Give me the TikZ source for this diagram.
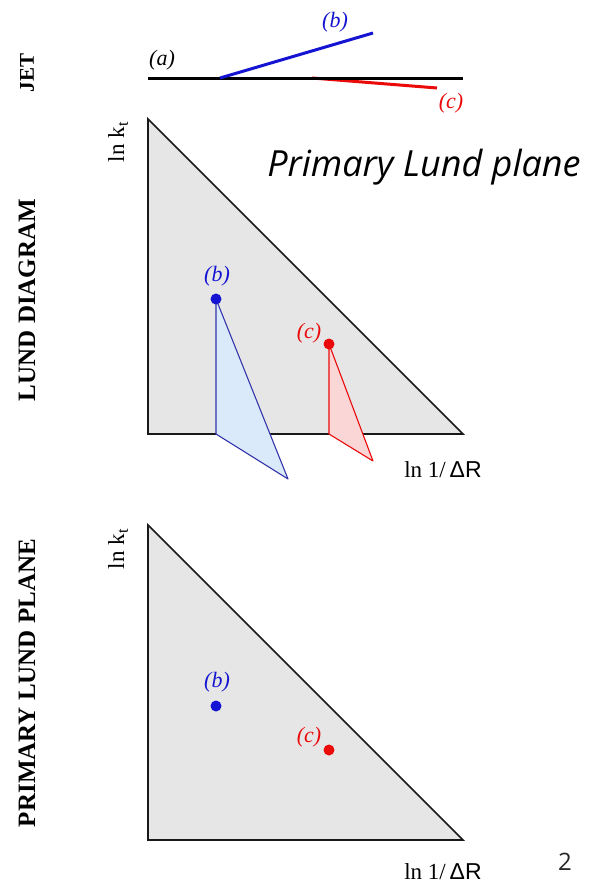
\documentclass[tikz,border=0pt]{standalone}
\usepackage{fontspec}
\setmainfont{Liberation Serif}
\newfontfamily\sansA{Liberation Sans}
\newfontfamily\osans{Open Sans}
\definecolor{jblue}{RGB}{20,20,210}
\definecolor{jred}{RGB}{235,10,10}
\definecolor{planegray}{RGB}{230,230,230}
\definecolor{lblue}{RGB}{218,234,250}
\definecolor{lred}{RGB}{250,214,214}
\definecolor{bstroke}{RGB}{50,50,170}
\definecolor{pagegray}{RGB}{40,40,40}
\tikzset{
  side/.style={rotate=90,font=\bfseries\fontsize{25}{28}\selectfont},
  plane/.style={fill=planegray,draw=black!90,line width=1.7pt,line join=miter},
  jetline/.style={line width=3pt},
  lab/.style={font=\itshape\fontsize{22}{24}\selectfont,inner sep=0pt},
  axis/.style={font=\fontsize{23}{26}\selectfont,inner sep=0pt},
  dot/.style={circle,inner sep=0pt,minimum size=11pt},
}
\begin{document}
\begin{tikzpicture}[x=1pt,y=-1pt]
\fill[white] (0,0) rectangle (591,887);
\useasboundingbox (0,0) rectangle (591,887);

% side titles
\node[side,font=\bfseries\fontsize{21}{24}\selectfont] (tjet) at (27,73) {JET};
\node[side] (tlund) at (27,300) {LUND DIAGRAM};
\node[side] (tprim) at (27,683) {PRIMARY LUND PLANE};

% jet
\coordinate (ja) at (148,78);
\coordinate (jz) at (463,78);
\coordinate (jb0) at (220,78);
\coordinate (jb1) at (373,33);
\coordinate (jc0) at (312,78);
\coordinate (jc1) at (437,88);
\draw[jetline,jred] (jc0) -- (jc1);
\draw[jetline,black] (ja) -- (jz);
\draw[jetline,jblue] (jb0) -- (jb1);
\node[lab] (la) at (162,60) {(a)};
\node[lab,text=jblue] (lb) at (335,22) {(b)};
\node[lab,text=jred] (lc) at (451,103) {(c)};

% Lund diagram
\coordinate (A1) at (148,119);
\coordinate (B1) at (148,434);
\coordinate (C1) at (463,434);
\draw[plane] (A1) -- (B1) -- (C1) -- cycle;
\node[font=\osans\itshape\fontsize{36}{40}\selectfont,inner sep=0pt] (title) at (424,167) {Primary Lund plane};

\coordinate (pb) at (216,299);
\coordinate (pb0) at (216,434);
\coordinate (pb1) at (288,479);
\fill[lblue] (pb) -- (pb0) -- (pb1) -- cycle;
\draw[bstroke,line width=1.1pt,line join=round] (pb) -- (pb0) -- (pb1) -- cycle;
\node[dot,fill=jblue] (db) at (pb) {};
\node[lab,text=jblue] (lb1) at (217,276) {(b)};

\coordinate (pc) at (329,344);
\coordinate (pc0) at (329,434);
\coordinate (pc1) at (373,461);
\fill[lred] (pc) -- (pc0) -- (pc1) -- cycle;
\draw[jred,line width=1.1pt,line join=round] (pc) -- (pc0) -- (pc1) -- cycle;
\node[dot,fill=jred] (dc) at (pc) {};
\node[lab,text=jred] (lc1) at (309,333) {(c)};

\node[axis,rotate=90] (kt1) at (118,142) {ln k$_{\mathrm t}$};
\node[axis] (dr1) at (443,470) {ln 1/\,{\sansA ΔR}};

% Primary Lund plane
\coordinate (A2) at (148,525);
\coordinate (B2) at (148,840);
\coordinate (C2) at (463,840);
\draw[plane] (A2) -- (B2) -- (C2) -- cycle;
\node[dot,fill=jblue] (db2) at (216,706) {};
\node[lab,text=jblue] (lb2) at (217,682) {(b)};
\node[dot,fill=jred] (dc2) at (329,750) {};
\node[lab,text=jred] (lc2) at (309,737) {(c)};
\node[axis,rotate=90] (kt2) at (118,549) {ln k$_{\mathrm t}$};
\node[axis] (dr2) at (443,872) {ln 1/\,{\sansA ΔR}};

\node[font=\osans\fontsize{24}{26}\selectfont,text=pagegray] (pg) at (565,862) {2};
\end{tikzpicture}
\end{document}
